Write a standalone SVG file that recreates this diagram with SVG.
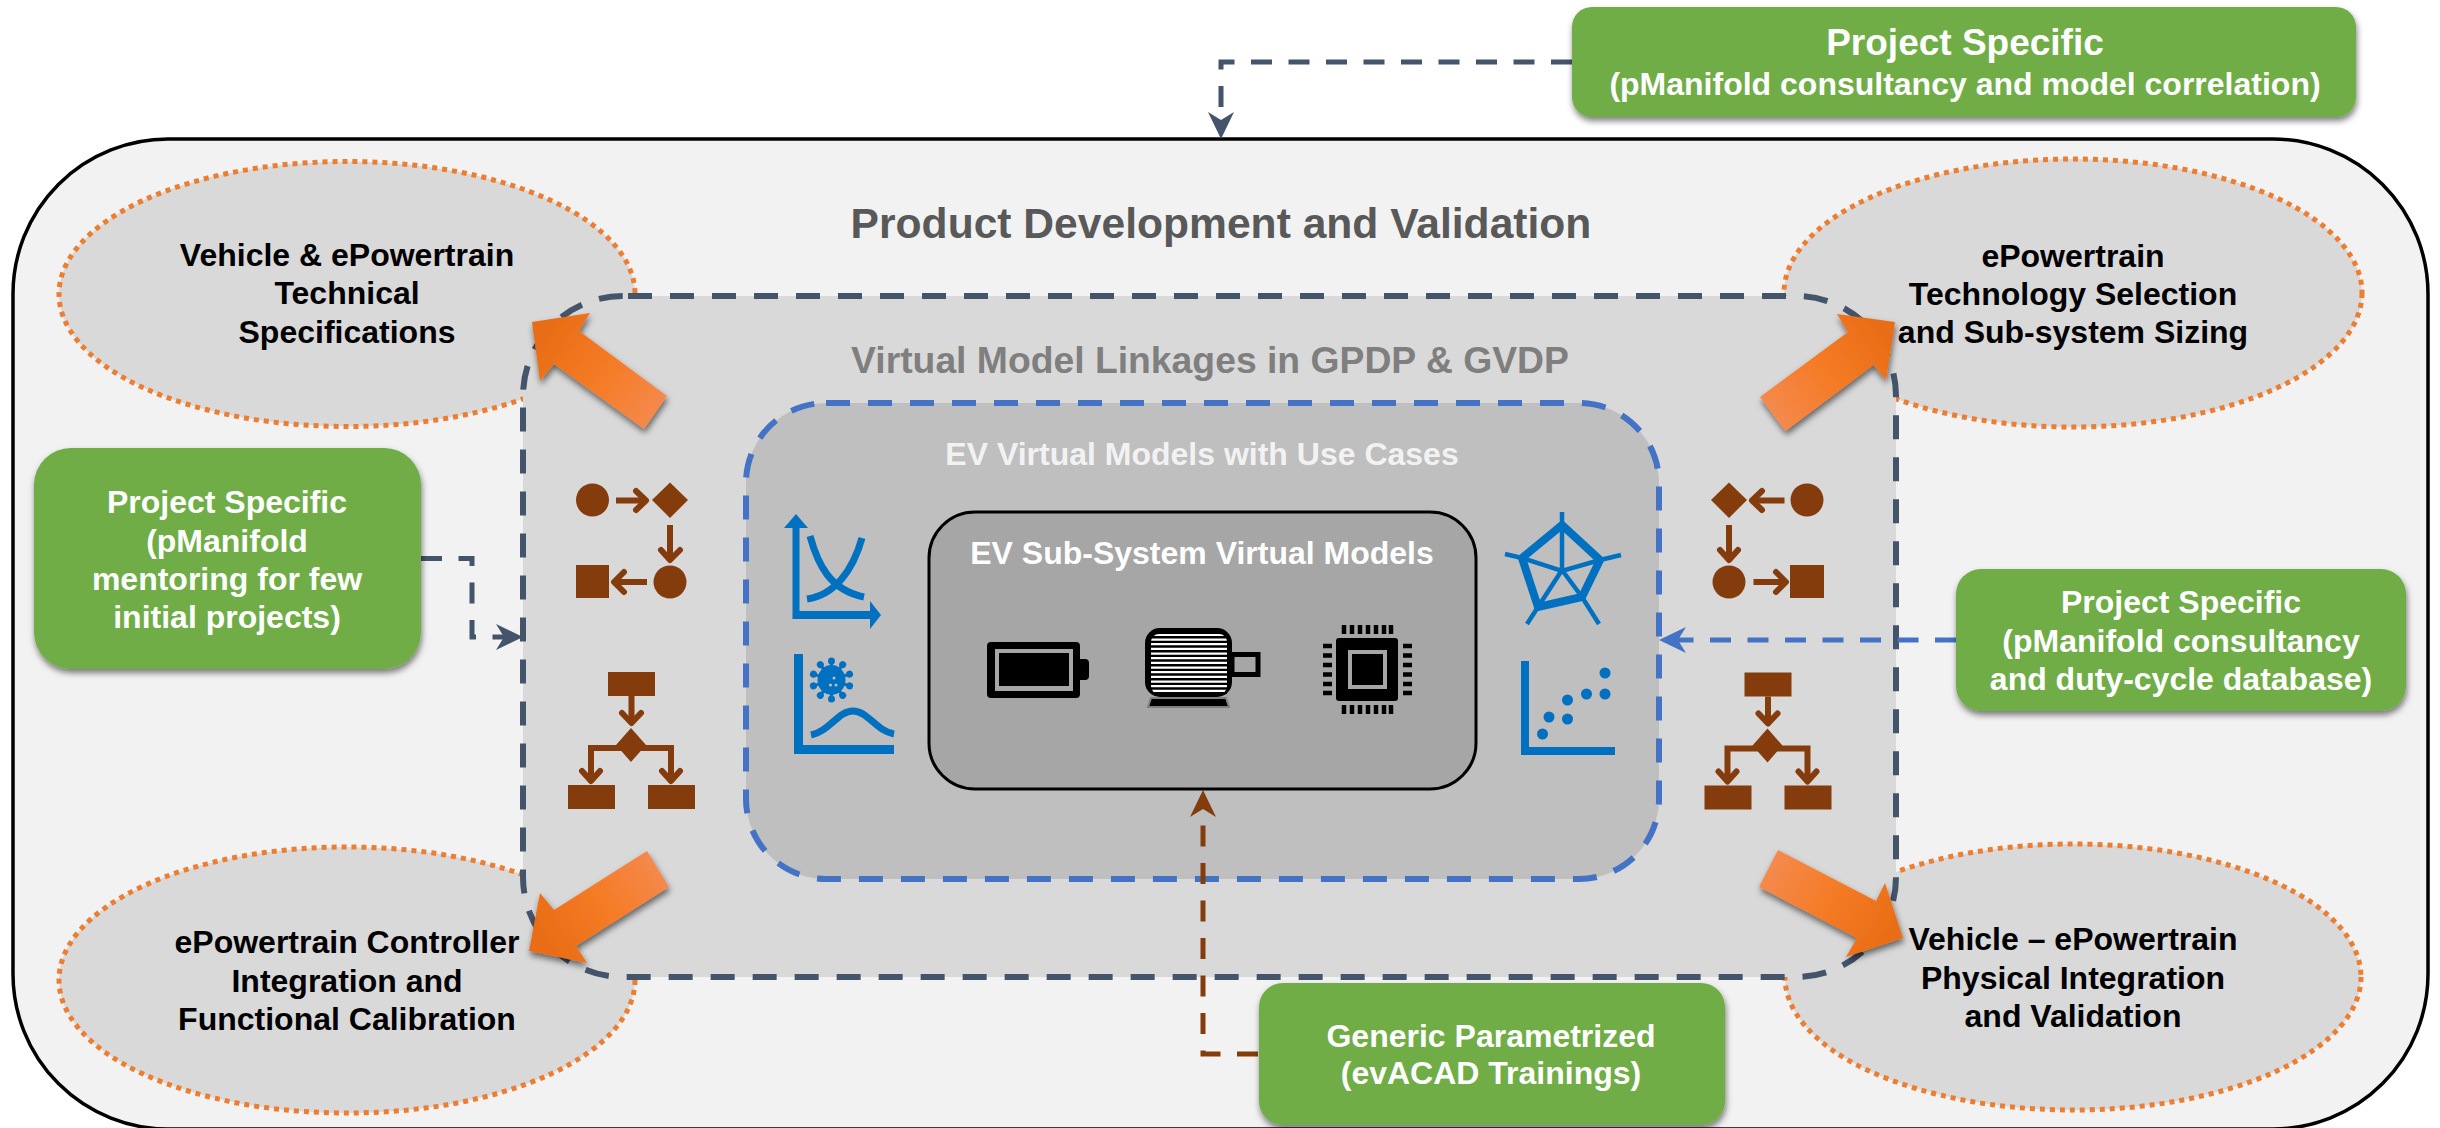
<svg xmlns="http://www.w3.org/2000/svg" xmlns:xlink="http://www.w3.org/1999/xlink" width="2440" height="1128" viewBox="0 0 2440 1128">
<style>
text{font-family:"Liberation Sans",Arial,sans-serif;font-weight:700;text-anchor:middle}
.lbl{font-size:32px;fill:#000}
.g{font-size:32px;fill:#fff}
.oval{fill:#d9d9d9;stroke:#ed7d31;stroke-width:5;stroke-dasharray:5 5}
.green{fill:#70ad47;filter:url(#sh)}
.arrow{filter:url(#sh2)}
.cn{fill:none;stroke-width:5;stroke-dasharray:21 16.5}
.br{fill:#843c0c}
.bl{fill:none;stroke:#843c0c;stroke-width:6;stroke-linecap:butt}
.ch{fill:none;stroke:#843c0c;stroke-width:6;stroke-linecap:round;stroke-linejoin:round}
.bu{fill:none;stroke:#0070c0}
.bf{fill:#0070c0}
</style>
<defs>
<filter id="sh" x="-10%" y="-10%" width="120%" height="125%"><feDropShadow dx="1" dy="4" stdDeviation="3" flood-color="#000" flood-opacity=".5"/></filter>
<filter id="sh2" x="-20%" y="-20%" width="140%" height="140%"><feDropShadow dx="1" dy="4" stdDeviation="3" flood-color="#000" flood-opacity=".55"/></filter>
<marker id="mSlate" markerUnits="userSpaceOnUse" markerWidth="30" markerHeight="30" refX="13" refY="15" orient="auto"><path d="M28,15 L1,2 L9,15 L1,28 Z" fill="#44546a"/></marker>
<marker id="mBlue" markerUnits="userSpaceOnUse" markerWidth="30" markerHeight="30" refX="13" refY="15" orient="auto"><path d="M28,15 L1,2 L9,15 L1,28 Z" fill="#4472c4"/></marker>
<marker id="mBrown" markerUnits="userSpaceOnUse" markerWidth="30" markerHeight="30" refX="13" refY="15" orient="auto"><path d="M28,15 L1,2 L9,15 L1,28 Z" fill="#843c0c"/></marker>
<linearGradient id="gTL" gradientUnits="userSpaceOnUse" x1="545" y1="335" x2="660" y2="415"><stop offset="0" stop-color="#e96d15"/><stop offset=".5" stop-color="#f57b26"/><stop offset="1" stop-color="#f48a4d"/></linearGradient>
<linearGradient id="gTR" gradientUnits="userSpaceOnUse" x1="1885" y1="335" x2="1770" y2="415"><stop offset="0" stop-color="#e96d15"/><stop offset=".5" stop-color="#f57b26"/><stop offset="1" stop-color="#f48a4d"/></linearGradient>
<linearGradient id="gBL" gradientUnits="userSpaceOnUse" x1="545" y1="940" x2="660" y2="865"><stop offset="0" stop-color="#e96d15"/><stop offset=".5" stop-color="#f57b26"/><stop offset="1" stop-color="#f48a4d"/></linearGradient>
<linearGradient id="gBR" gradientUnits="userSpaceOnUse" x1="1890" y1="935" x2="1770" y2="865"><stop offset="0" stop-color="#e96d15"/><stop offset=".5" stop-color="#f57b26"/><stop offset="1" stop-color="#f48a4d"/></linearGradient>
<g id="tree">
<rect class="br" x="608" y="672" width="47" height="24"/>
<path class="bl" d="M631.5,696V722M591,780V748H671V780"/>
<path class="ch" d="M622,713L631.5,723L641,713M582,771L591,781L600,771M662,771L671,781L680,771"/>
<path class="br" d="M631,728L646,745L631,762L616,745Z"/>
<rect class="br" x="568" y="785" width="47" height="24"/>
<rect class="br" x="648" y="785" width="47" height="24"/>
</g>
</defs>
<rect width="2440" height="1128" fill="#fff"/>

<g id="outer">
<rect x="13" y="139" width="2415" height="990" rx="155" ry="155" fill="#f2f2f2" stroke="#000" stroke-width="3.5"/>
<text x="1221" y="238" style="font-size:42.6px" fill="#595959">Product Development and Validation</text>
</g>

<g id="oval-tl"><ellipse class="oval" cx="347" cy="294" rx="288" ry="132.5"/>
<text class="lbl" x="347" y="266">Vehicle &amp; ePowertrain</text><text class="lbl" x="347" y="304">Technical</text><text class="lbl" x="347" y="343">Specifications</text></g>
<g id="oval-tr"><ellipse class="oval" cx="2073" cy="293" rx="289" ry="134"/>
<text class="lbl" x="2073" y="267">ePowertrain</text><text class="lbl" x="2073" y="305">Technology Selection</text><text class="lbl" x="2073" y="343">and Sub-system Sizing</text></g>
<g id="oval-bl"><ellipse class="oval" cx="347" cy="980" rx="288" ry="133"/>
<text class="lbl" x="347" y="953">ePowertrain Controller</text><text class="lbl" x="347" y="992">Integration and</text><text class="lbl" x="347" y="1030">Functional Calibration</text></g>
<g id="oval-br"><ellipse class="oval" cx="2073" cy="977" rx="288" ry="133"/>
<text class="lbl" x="2073" y="950">Vehicle – ePowertrain</text><text class="lbl" x="2073" y="989">Physical Integration</text><text class="lbl" x="2073" y="1027">and Validation</text></g>

<g id="linkages">
<rect x="523" y="296" width="1373" height="681" rx="100" ry="100" fill="#d9d9d9" stroke="#44546a" stroke-width="6" stroke-dasharray="24 18" stroke-dashoffset="-5"/>
<text x="1210" y="373" style="font-size:37.3px" fill="#7f7f7f">Virtual Model Linkages in GPDP &amp; GVDP</text>
</g>
<g id="usecases">
<rect x="746" y="403" width="913" height="476" rx="80" ry="80" fill="#bfbfbf" stroke="#4472c4" stroke-width="6" stroke-dasharray="24 18"/>
<text x="1202" y="465" style="font-size:32px" fill="#f2f2f2">EV Virtual Models with Use Cases</text>
</g>
<g id="subsystem">
<rect x="929" y="512" width="547" height="277" rx="46" ry="46" fill="#a6a6a6" stroke="#000" stroke-width="3"/>
<text x="1202" y="564" style="font-size:32px" fill="#fff">EV Sub-System Virtual Models</text>
</g>

<g id="battery">
<rect x="987" y="642" width="93" height="56" rx="4"/>
<path d="M1080,659H1085Q1089,659 1089,663V676Q1089,680 1085,680H1080Z"/>
<rect x="995" y="649" width="78" height="42" fill="#a6a6a6"/>
<rect x="999" y="653" width="70" height="33"/>
</g>
<g id="motor">
<path d="M1151,698H1226L1229,707H1148Z" fill="#000" stroke="#7f7f7f" stroke-width="2"/>
<rect x="1145" y="628" width="87" height="69" rx="15"/>
<rect x="1151" y="634" width="76" height="60" rx="8" fill="#fff"/>
<line x1="1189" y1="636" x2="1189" y2="694" stroke="#000" stroke-width="76" stroke-dasharray="2.4 2.27"/>
<rect x="1232" y="654.500" width="26" height="20" fill="#a6a6a6" stroke="#000" stroke-width="5"/>
</g>
<g id="chip">
<rect x="1336" y="638" width="62" height="63" rx="3"/>
<rect x="1348" y="650" width="39" height="39" fill="#a6a6a6"/>
<rect x="1352" y="654" width="31" height="31"/>
<path d="M1344,625V634M1352,625V634M1360,625V634M1368,625V634M1376,625V634M1384,625V634M1391,625V634M1344,705V714M1352,705V714M1360,705V714M1368,705V714M1376,705V714M1384,705V714M1391,705V714" stroke="#000" stroke-width="4.500"/>
<path d="M1323,646H1332M1323,655.500H1332M1323,665H1332M1323,674.500H1332M1323,684H1332M1323,693H1332M1403,646H1412M1403,655.500H1412M1403,665H1412M1403,674.500H1412M1403,684H1412M1403,693H1412" stroke="#000" stroke-width="4.500"/>
</g>

<g id="icon-curves">
<path class="bf" d="M792.500,527H799.500V611H870V601L881,615L870,629V619H792.500Z"/>
<path class="bf" d="M796,514L808,528H784Z"/>
<path class="bu" stroke-width="7" d="M810,536C818,565 830,590 864,597M807,599C835,595 853,570 862,538"/>
</g>
<g id="icon-bell">
<path class="bf" d="M794,654H803V745H894V754H794Z"/>
<path class="bu" stroke-width="7" d="M811,735C830,731 838,711 853,711C868,711 876,731 894,734"/>
<ellipse class="bf" cx="831.500" cy="680" rx="14" ry="15"/>
<g stroke="#0070c0" stroke-width="3" fill="#0070c0">
<g id="sp"><line x1="831.500" y1="680" x2="831.500" y2="661"/><circle cx="831.500" cy="661" r="2"/></g>
<use xlink:href="#sp" href="#sp" transform="rotate(36 831.500 680)"/><use xlink:href="#sp" href="#sp" transform="rotate(72 831.500 680)"/><use xlink:href="#sp" href="#sp" transform="rotate(108 831.500 680)"/><use xlink:href="#sp" href="#sp" transform="rotate(144 831.500 680)"/><use xlink:href="#sp" href="#sp" transform="rotate(180 831.500 680)"/><use xlink:href="#sp" href="#sp" transform="rotate(216 831.500 680)"/><use xlink:href="#sp" href="#sp" transform="rotate(252 831.500 680)"/><use xlink:href="#sp" href="#sp" transform="rotate(288 831.500 680)"/><use xlink:href="#sp" href="#sp" transform="rotate(324 831.500 680)"/>
</g>
<circle cx="834" cy="678" r="1.500" fill="#bfbfbf"/><circle cx="830.500" cy="685" r="1.500" fill="#bfbfbf"/><circle cx="836" cy="685" r="1.500" fill="#bfbfbf"/>
</g>
<g id="icon-radar">
<path class="bu" stroke-width="8" stroke-linejoin="miter" d="M1562,525L1600,560L1582,597L1538,607L1522,558Z"/>
<path class="bu" stroke-width="4.500" d="M1562,512V570M1600,560L1621,555M1600,560L1562,571L1522,558M1505,554L1522,558M1538,607L1527,624M1582,597L1599,624M1562,570L1538,607M1562,570L1582,597"/>
</g>
<g id="icon-scatter">
<path class="bf" d="M1521,661H1529V747H1615V755H1521Z"/>
<g class="bf"><circle cx="1542.500" cy="734" r="5.500"/><circle cx="1549" cy="717" r="5.500"/><circle cx="1567.500" cy="719" r="5.500"/><circle cx="1567.500" cy="700" r="5.500"/><circle cx="1586.500" cy="694" r="5.500"/><circle cx="1605" cy="694" r="5.500"/><circle cx="1605" cy="673" r="5.500"/></g>
</g>

<g id="icon-flow-left">
<circle class="br" cx="592.500" cy="500" r="16.500"/>
<path class="bl" d="M616,500.500H645M670,525V559M647,582H615"/>
<path class="ch" d="M636,491L646,500.500L636,510M661,550L670,560L680,550M624,572L614,582L624,592"/>
<path class="br" d="M670,482.500L688,500L670,518L652,500Z"/>
<circle class="br" cx="670" cy="582" r="16.500"/>
<rect class="br" x="576" y="565" width="33" height="33"/>
</g>
<g id="icon-tree-left"><use xlink:href="#tree" href="#tree"/></g>
<g id="icon-flow-right">
<circle class="br" cx="1807" cy="500" r="16.500"/>
<path class="bl" d="M1784.500,500.500H1753M1729,525V559M1753.500,582H1785"/>
<path class="ch" d="M1762,491L1752,500.500L1762,510M1720,550L1729,560L1738,550M1776,572L1786,582L1776,592"/>
<path class="br" d="M1729,482.500L1747,500L1729,518L1711,500Z"/>
<circle class="br" cx="1729" cy="582" r="16.500"/>
<rect class="br" x="1790" y="565" width="34" height="33"/>
</g>
<g id="icon-tree-right"><use xlink:href="#tree" href="#tree" transform="translate(1136.500 0.500)"/></g>

<g id="arrows">
<path class="arrow" fill="url(#gTL)" d="M532,322L590,313L579,331L667,396L644,429L554,364L540,381Z"/>
<path class="arrow" fill="url(#gTR)" d="M1895,322L1837,314L1848,332L1760,397L1785.500,431L1873.500,365L1886,380Z"/>
<path class="arrow" fill="url(#gBL)" d="M529,951L540,893L554,910L647,851L669,887L576,946L587,963Z"/>
<path class="arrow" fill="url(#gBR)" d="M1903,938L1885,883L1876,901L1778,850L1759,887L1857,938L1846,957Z"/>
</g>

<g id="connectors">
<path class="cn" stroke="#44546a" marker-end="url(#mSlate)" d="M1572,62H1221V124"/>
<path class="cn" stroke="#44546a" marker-end="url(#mSlate)" d="M421,558.500H472V637H508"/>
<path class="cn" stroke="#4472c4" marker-end="url(#mBlue)" d="M1956,640H1674"/>
<path class="cn" stroke="#843c0c" marker-end="url(#mBrown)" d="M1258,1054H1203V805"/>
</g>

<g id="green-top"><rect class="green" x="1572" y="7" width="784" height="110" rx="20"/>
<text x="1965" y="55" style="font-size:37px" fill="#fff">Project Specific</text><text class="g" x="1965" y="95">(pManifold consultancy and model correlation)</text></g>
<g id="green-left"><rect class="green" x="34" y="448" width="387" height="221" rx="37"/>
<text class="g" x="227" y="513">Project Specific</text><text class="g" x="227" y="552">(pManifold</text><text class="g" x="227" y="590">mentoring for few</text><text class="g" x="227" y="628">initial projects)</text></g>
<g id="green-right"><rect class="green" x="1956" y="569" width="450" height="142" rx="25"/>
<text class="g" x="2181" y="613">Project Specific</text><text class="g" x="2181" y="652">(pManifold consultancy</text><text class="g" x="2181" y="690">and duty-cycle database)</text></g>
<g id="green-bottom"><rect class="green" x="1259" y="983" width="466" height="142" rx="24"/>
<text class="g" x="1491" y="1047">Generic Parametrized</text><text class="g" x="1491" y="1084">(evACAD Trainings)</text></g>
</svg>
